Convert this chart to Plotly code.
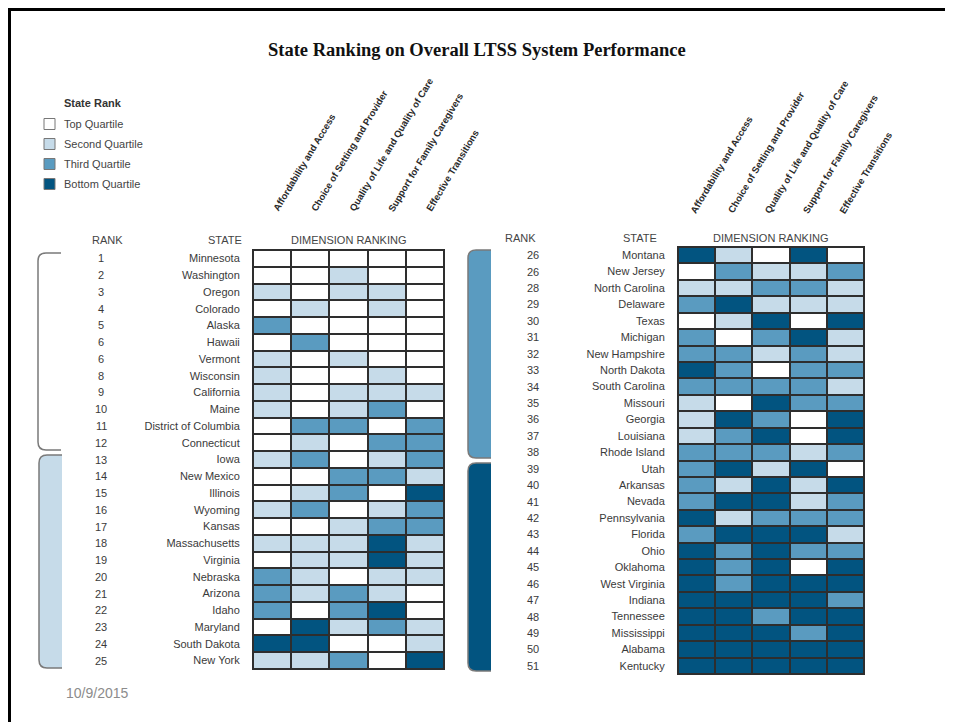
import plotly.graph_objects as go

W, H = 953, 722
OFF = 8  # page body margin in the browser

TITLE = "State Ranking on Overall LTSS System Performance"
DATE_TEXT = "10/9/2015"
LEGEND_TITLE = "State Rank"
DIMENSIONS = ["Affordability and Access", "Choice of Setting and Provider",
              "Quality of Life and Quality of Care", "Support for Family Caregivers",
              "Effective Transitions"]
QUARTILE_LABELS = ["Top Quartile", "Second Quartile", "Third Quartile", "Bottom Quartile"]
QUARTILE_COLORS = ["#ffffff", "#c6dbe9", "#5a9bc0", "#025480"]

LEFT_RANKS = [1, 2, 3, 4, 5, 6, 6, 8, 9, 10, 11, 12, 13, 14, 15, 16, 17, 18, 19, 20, 21, 22, 23, 24, 25]
LEFT_STATES = ["Minnesota", "Washington", "Oregon", "Colorado", "Alaska", "Hawaii", "Vermont",
               "Wisconsin", "California", "Maine", "District of Columbia", "Connecticut", "Iowa",
               "New Mexico", "Illinois", "Wyoming", "Kansas", "Massachusetts", "Virginia",
               "Nebraska", "Arizona", "Idaho", "Maryland", "South Dakota", "New York"]
LEFT_QUARTILES = [
    [1, 1, 1, 1, 1], [1, 1, 2, 1, 1], [2, 1, 2, 2, 1], [1, 2, 1, 2, 1], [3, 1, 1, 1, 1],
    [1, 3, 1, 1, 1], [2, 1, 2, 1, 1], [2, 1, 1, 2, 1], [2, 1, 2, 2, 2], [2, 1, 2, 3, 1],
    [1, 3, 3, 1, 3], [1, 2, 1, 3, 3], [2, 3, 1, 2, 3], [1, 1, 3, 3, 2], [1, 2, 3, 1, 4],
    [2, 3, 1, 2, 3], [1, 1, 2, 3, 3], [2, 2, 2, 4, 2], [1, 2, 2, 4, 2], [3, 2, 1, 2, 2],
    [3, 2, 3, 2, 1], [3, 1, 3, 4, 1], [1, 4, 2, 3, 2], [4, 4, 1, 1, 2], [2, 2, 3, 1, 4],
]

RIGHT_RANKS = [26, 26, 28, 29, 30, 31, 32, 33, 34, 35, 36, 37, 38, 39, 40, 41, 42, 43, 44, 45,
               46, 47, 48, 49, 50, 51]
RIGHT_STATES = ["Montana", "New Jersey", "North Carolina", "Delaware", "Texas", "Michigan",
                "New Hampshire", "North Dakota", "South Carolina", "Missouri", "Georgia",
                "Louisiana", "Rhode Island", "Utah", "Arkansas", "Nevada", "Pennsylvania",
                "Florida", "Ohio", "Oklahoma", "West Virginia", "Indiana", "Tennessee",
                "Mississippi", "Alabama", "Kentucky"]
RIGHT_QUARTILES = [
    [4, 2, 1, 4, 1], [1, 3, 2, 2, 3], [2, 2, 3, 3, 2], [3, 4, 2, 2, 2], [1, 2, 4, 1, 4],
    [3, 1, 3, 4, 2], [3, 3, 2, 3, 2], [4, 3, 1, 3, 3], [3, 3, 3, 3, 2], [2, 1, 4, 3, 3],
    [2, 4, 3, 1, 4], [2, 3, 4, 1, 4], [3, 3, 3, 2, 3], [3, 4, 2, 4, 1], [3, 2, 4, 2, 4],
    [3, 4, 4, 2, 3], [4, 2, 3, 3, 3], [3, 4, 4, 4, 2], [4, 3, 4, 3, 3], [4, 3, 4, 1, 4],
    [4, 3, 4, 4, 4], [4, 4, 4, 4, 3], [4, 4, 3, 4, 4], [4, 4, 4, 3, 4], [4, 4, 4, 4, 4],
    [4, 4, 4, 4, 4],
]


def fx(px):
    return (px - OFF) / W


def fy(py):
    return 1 - (py - OFF) / H


SANS = "Liberation Sans, Arial, sans-serif"
TXT = "#3a3a3a"
GRID = "#2e2e2e"

n = len(QUARTILE_COLORS)
colorscale = []
for i, c in enumerate(QUARTILE_COLORS):
    colorscale.append([i / n, c])
    colorscale.append([(i + 1) / n, c])

fig = go.Figure()

panels = [
    dict(states=LEFT_STATES, ranks=LEFT_RANKS, z=LEFT_QUARTILES, xa="x", ya="y",
         gx=(253, 444), gy=(250, 669), rank_x=101, head_y=240,
         rank_head=107, state_head=225, hdx=-4, hdy=216),
    dict(states=RIGHT_STATES, ranks=RIGHT_RANKS, z=RIGHT_QUARTILES, xa="x2", ya="y2",
         gx=(678, 864), gy=(247, 674), rank_x=533, head_y=238,
         rank_head=520, state_head=640, hdx=-11, hdy=218),
]

annotations = []
shapes = []

for k, p in enumerate(panels):
    nrows = len(p["states"])
    fig.add_trace(go.Heatmap(
        z=p["z"], x=list(range(len(DIMENSIONS))), y=list(range(nrows)),
        xaxis=p["xa"], yaxis=p["ya"], colorscale=colorscale, zmin=0.5, zmax=n + 0.5,
        showscale=False, xgap=2, ygap=2,
        customdata=[[s] * len(DIMENSIONS) for s in p["states"]],
        hovertemplate="%{customdata}<extra></extra>",
    ))
    sfx = "" if k == 0 else "2"
    fig.update_layout(**{
        "xaxis" + sfx: dict(domain=[fx(p["gx"][0]), fx(p["gx"][1])], range=[-0.5, 4.5],
                            showticklabels=False, ticks="", showgrid=False, zeroline=False,
                            showline=True, mirror=True, linecolor=GRID, linewidth=1,
                            anchor=p["ya"], fixedrange=True),
        "yaxis" + sfx: dict(domain=[fy(p["gy"][1]), fy(p["gy"][0])], range=[nrows - 0.5, -0.5],
                            tickvals=list(range(nrows)), ticktext=p["states"], ticks="",
                            ticklabelstandoff=10, tickfont=dict(family=SANS, size=11, color=TXT),
                            showgrid=False, zeroline=False, showline=True, mirror=True,
                            linecolor=GRID, linewidth=1, anchor=p["xa"], fixedrange=True),
    })
    for i, r in enumerate(p["ranks"]):
        annotations.append(dict(x=fx(p["rank_x"]), xref="paper", y=i, yref=p["ya"],
                                text=str(r), showarrow=False, xanchor="center",
                                font=dict(family=SANS, size=11, color=TXT)))
    gx0, gx1 = p["gx"]
    for txt, cx in [("RANK", p["rank_head"]), ("STATE", p["state_head"]),
                    ("DIMENSION RANKING", (gx0 + gx1) / 2)]:
        annotations.append(dict(x=fx(cx), y=fy(p["head_y"]), xref="paper", yref="paper",
                                text=txt, showarrow=False, xanchor="center", yanchor="middle",
                                font=dict(family=SANS, size=11, color="#444444")))
    cw = (gx1 - gx0) / len(DIMENSIONS)
    for j, d in enumerate(DIMENSIONS):
        cx = gx0 + cw * (j + 0.5)
        annotations.append(dict(x=fx(cx + p["hdx"]), y=fy(p["hdy"]), xref="paper", yref="paper",
                                text="<b>" + d + "</b>", showarrow=False, textangle=-59,
                                xanchor="left", yanchor="bottom",
                                font=dict(family=SANS, size=9.5, color="#2a2a2a")))

# Title and date
annotations.append(dict(x=fx(477), y=fy(50), xref="paper", yref="paper", text="<b>" + TITLE + "</b>",
                        showarrow=False, xanchor="center", yanchor="middle",
                        font=dict(family="Liberation Serif, Times New Roman, serif", size=18.5,
                                  color="#111")))
annotations.append(dict(x=fx(64), y=fy(693), xref="paper", yref="paper", text=DATE_TEXT,
                        showarrow=False, xanchor="left", yanchor="middle",
                        font=dict(family=SANS, size=14, color="#8c8c8c")))

# Legend
annotations.append(dict(x=fx(62), y=fy(103), xref="paper", yref="paper", text="<b>" + LEGEND_TITLE + "</b>",
                        showarrow=False, xanchor="left", yanchor="middle",
                        font=dict(family=SANS, size=11, color="#333")))
for i, (lab, col) in enumerate(zip(QUARTILE_LABELS, QUARTILE_COLORS)):
    yc = 124 + 20 * i
    shapes.append(dict(type="rect", xref="paper", yref="paper", x0=fx(44), x1=fx(55),
                       y0=fy(yc + 5.5), y1=fy(yc - 5.5), fillcolor=col,
                       line=dict(color="#777777", width=1)))
    annotations.append(dict(x=fx(62), y=fy(yc), xref="paper", yref="paper", text=lab,
                            showarrow=False, xanchor="left", yanchor="middle",
                            font=dict(family=SANS, size=11, color="#444")))


def bracket_path(x0, x1, y0, y1, r=8, close=False):
    pts = (f"M {fx(x1)},{fy(y0)} L {fx(x0 + r)},{fy(y0)} Q {fx(x0)},{fy(y0)} {fx(x0)},{fy(y0 + r)} "
           f"L {fx(x0)},{fy(y1 - r)} Q {fx(x0)},{fy(y1)} {fx(x0 + r)},{fy(y1)} L {fx(x1)},{fy(y1)}")
    return pts + (" Z" if close else "")


brackets = [
    (38, 61, 253, 450, None),
    (39, 62, 455, 668, QUARTILE_COLORS[1]),
    (468, 491, 250, 458, QUARTILE_COLORS[2]),
    (468, 491, 463, 671, QUARTILE_COLORS[3]),
]
for x0, x1, y0, y1, col in brackets:
    if col is not None:
        shapes.append(dict(type="path", xref="paper", yref="paper",
                           path=bracket_path(x0, x1, y0, y1, close=True),
                           fillcolor=col, line=dict(width=0)))
    shapes.append(dict(type="path", xref="paper", yref="paper",
                       path=bracket_path(x0, x1, y0, y1), line=dict(color="#7a7a7a", width=1.5)))

# Slide frame (top and left edges)
shapes.append(dict(type="line", xref="paper", yref="paper", x0=0, x1=fx(948), y0=fy(9.5), y1=fy(9.5),
                   line=dict(color="#000", width=3)))
shapes.append(dict(type="line", xref="paper", yref="paper", x0=1.5 / W, x1=1.5 / W, y0=fy(8), y1=0,
                   line=dict(color="#000", width=3)))

fig.update_layout(width=W, height=H, margin=dict(l=0, r=0, t=0, b=0),
                  paper_bgcolor="white", plot_bgcolor=GRID, showlegend=False,
                  annotations=annotations, shapes=shapes)

fig.write_html("out.html")
